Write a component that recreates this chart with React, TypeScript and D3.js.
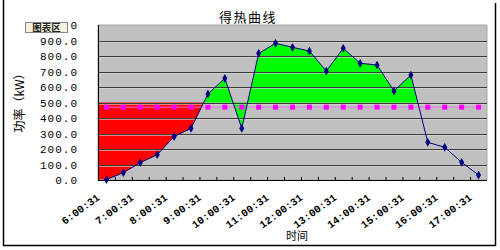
import React from "react";
import * as d3 from "d3";

const categories = [
  "6:00:31", "6:30:31", "7:00:31", "7:30:31", "8:00:31", "8:30:31",
  "9:00:31", "9:30:31", "10:00:31", "10:30:31", "11:00:31", "11:30:31",
  "12:00:31", "12:30:31", "13:00:31", "13:30:31", "14:00:31", "14:30:31",
  "15:00:31", "15:30:31", "16:00:31", "16:30:31", "17:00:31",
];
const heatGain = [
  3, 47, 112, 163, 280, 333, 555, 656, 333, 817, 882, 856,
  832, 703, 850, 753, 742, 574, 677, 243, 211, 114, 32,
];
const referenceLevel = [
  470, 470, 470, 470, 470, 470, 470, 470, 470, 470, 470, 470,
  470, 470, 470, 470, 470, 470, 470, 470, 470, 470, 470,
];
const threshold = 500;
const yTicks = [0, 100, 200, 300, 400, 500, 600, 700, 800, 900, 1000];
const xLabelEvery = 2;

export default function App() {
  const W = 500, H = 250;
  const left = 98, right = 487, top = 25, bottom = 180;
  const x = d3.scaleBand<string>().domain(categories).range([left, right]).padding(0);
  const bw = x.bandwidth();
  const cx = (i: number) => (x(categories[i]) as number) + bw / 2;
  const y = d3.scaleLinear().domain([0, 1000]).range([bottom, top]);

  const pts = heatGain.map((v, i) => ({ x: cx(i), v }));

  const crossings: number[] = [];
  for (let i = 0; i < pts.length - 1; i++) {
    const a = pts[i], b = pts[i + 1];
    if ((a.v - threshold) * (b.v - threshold) < 0) {
      const t = (threshold - a.v) / (b.v - a.v);
      crossings.push(a.x + t * (b.x - a.x));
    }
  }
  const firstCross = crossings[0];
  const lastCross = crossings[crossings.length - 1];

  const area = d3
    .area<{ x: number; v: number }>()
    .x((d) => d.x)
    .y0(y(threshold))
    .y1((d) => y(d.v));
  const redPts = [{ x: left, v: heatGain[0] }, ...pts];
  const line = d3
    .line<{ x: number; v: number }>()
    .x((d) => d.x)
    .y((d) => y(d.v));
  const refLine = d3
    .line<number>()
    .x((_, i) => cx(i))
    .y((d) => y(d));

  const monoFont = "'Liberation Mono', 'DejaVu Sans Mono', monospace";
  const cjkFont = "'Noto Sans CJK SC', sans-serif";

  return (
    <svg width={W} height={H} style={{ position: "absolute", left: 0, top: 0, background: "#fff" }}>
      <defs>
        <clipPath id="redClip">
          <rect x={left} y={top} width={firstCross - left} height={bottom - top} />
        </clipPath>
        <clipPath id="greenClip">
          <rect x={firstCross} y={top} width={lastCross - firstCross} height={bottom - top} />
        </clipPath>
      </defs>
      {/* chart frame */}
      <line x1={3.5} y1={0} x2={3.5} y2={245.5} stroke="#000" strokeWidth={1.5} />
      <line x1={3} y1={245.5} x2={495.5} y2={245.5} stroke="#000" strokeWidth={1.5} />
      <line x1={495.5} y1={3} x2={495.5} y2={246} stroke="#000" strokeWidth={1.5} />

      {/* plot area */}
      <rect x={left} y={top} width={right - left} height={bottom - top} fill="#c0c0c0" stroke="#a8a8a8" />
      <path d={area(redPts) || ""} fill="#ff0000" clipPath="url(#redClip)" />
      <path d={area(pts) || ""} fill="#00ff00" clipPath="url(#greenClip)" />
      {yTicks.slice(1, -1).map((t) => (
        <g key={t}>
          <line x1={left} x2={right} y1={Math.round(y(t)) + 0.5} y2={Math.round(y(t)) + 0.5} stroke="#3c3c3c" />
          <line x1={left} x2={right} y1={Math.round(y(t)) + 1.5} y2={Math.round(y(t)) + 1.5} stroke="#d8d8d8" strokeOpacity={0.6} />
        </g>
      ))}
      {/* axes */}
      <line x1={left + 0.5} x2={left + 0.5} y1={top} y2={bottom} stroke="#000" />
      <line x1={left} x2={right} y1={bottom + 0.5} y2={bottom + 0.5} stroke="#000" />
      {categories.map((c) => (
        <line key={c} x1={(x(c) as number) + 0.5} x2={(x(c) as number) + 0.5} y1={bottom - 3} y2={bottom} stroke="#000" />
      ))}

      {/* reference level */}
      <path d={refLine(referenceLevel) || ""} fill="none" stroke="#f070f0" strokeWidth={1} />
      {referenceLevel.map((v, i) => (
        <rect key={i} x={cx(i) - 2.5} y={y(v) - 2.5} width={5} height={5} fill="#ff00ff" />
      ))}

      {/* heat gain line */}
      <path d={line(pts) || ""} fill="none" stroke="#000080" strokeWidth={1} />
      {pts.map((p, i) => (
        <path key={i} d={d3.symbol(d3.symbolDiamond, 22)() || ""} transform={`translate(${p.x},${y(p.v)})`} fill="#000080" />
      ))}

      {/* y tick labels */}
      {yTicks.map((t) => (
        <text key={t} x={78} y={y(t) + 4} textAnchor="end" fontFamily={monoFont} fontSize={11} letterSpacing={1} fill="#000">
          {t.toFixed(1)}
        </text>
      ))}
      {/* x tick labels */}
      {categories.map((c, i) =>
        i % xLabelEvery === 0 ? (
          <text
            key={c}
            transform={`translate(${cx(i) - 6},${bottom + 19}) rotate(-36)`}
            textAnchor="end"
            fontFamily={monoFont}
            fontSize={10.5}
            fontWeight="bold"
            fill="#000"
          >
            {c}
          </text>
        ) : null
      )}

      {/* titles */}
      <text x={248} y={22} textAnchor="middle" fontFamily={cjkFont} fontSize={13} letterSpacing={1.5} fill="#000">
        得热曲线
      </text>
      <text transform="translate(24,100) rotate(-90)" textAnchor="middle" fontFamily={cjkFont} fontSize={12} fill="#000">
        功率（kW）
      </text>
      <text x={297} y={240} textAnchor="middle" fontFamily={cjkFont} fontSize={11} fill="#000">
        时间
      </text>

      {/* tooltip covering the top tick label, as in the reference */}
      <rect x={25.5} y={22.5} width={42} height={10} fill="#f4f2dc" stroke="#888" />
      <text x={46.5} y={31} textAnchor="middle" fontFamily={cjkFont} fontSize={9.5} fontWeight="bold" fill="#222">
        图表区
      </text>
    </svg>
  );
}
